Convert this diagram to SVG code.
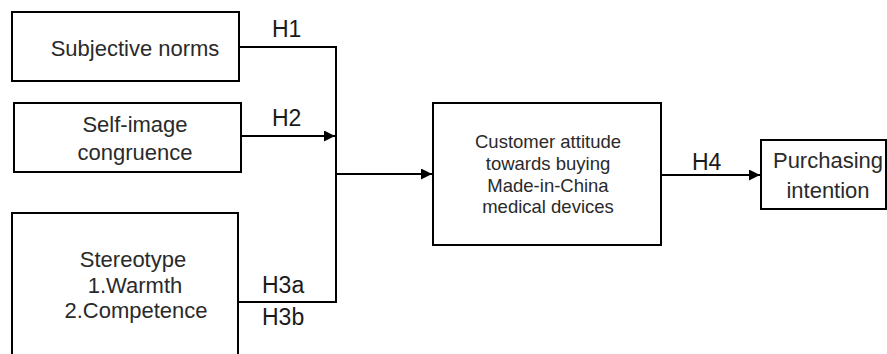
<svg xmlns="http://www.w3.org/2000/svg" width="887" height="354" viewBox="0 0 887 354">
<style>
.box{fill:#fff;stroke:#000;stroke-width:2}
.t{font-family:"Liberation Sans",Arial,sans-serif;font-size:22px;fill:#2a2a2a;text-anchor:middle}
.s{font-size:18.5px}
.lbl{font-family:"Liberation Sans",Arial,sans-serif;font-size:23px;fill:#1a1a1a}
.c{fill:none;stroke:#000;stroke-width:2}
</style>
<defs>
<marker id="ah" viewBox="0 0 10 10" refX="10" refY="5" markerWidth="11" markerHeight="11" markerUnits="userSpaceOnUse" orient="auto">
<path d="M0,0 L10,5 L0,10 Z" fill="#000"/>
</marker>
</defs>
<rect width="887" height="354" fill="#fff"/>
<g id="connectors">
<polyline class="c" points="239,47 336,47 336,302 239,302"/>
<line class="c" x1="241" y1="136" x2="335" y2="136" marker-end="url(#ah)"/>
<line class="c" x1="336" y1="174" x2="432" y2="174" marker-end="url(#ah)"/>
<line class="c" x1="661" y1="175" x2="760" y2="175" marker-end="url(#ah)"/>
<text class="lbl" x="272" y="37">H1</text>
<text class="lbl" x="272" y="126">H2</text>
<text class="lbl" x="262" y="293">H3a</text>
<text class="lbl" x="262" y="325">H3b</text>
<text class="lbl" x="692" y="170">H4</text>
</g>
<g id="subjective-norms">
<rect class="box" x="12" y="12" width="227" height="69"/>
<text class="t" x="135" y="56">Subjective norms</text>
</g>
<g id="self-image">
<rect class="box" x="14" y="103" width="227" height="69"/>
<text class="t" x="135" y="132">Self-image</text>
<text class="t" x="135" y="160">congruence</text>
</g>
<g id="stereotype">
<rect class="box" x="12" y="213" width="226" height="150"/>
<text class="t" x="133" y="267">Stereotype</text>
<text class="t" x="135" y="293">1.Warmth</text>
<text class="t" x="136" y="318">2.Competence</text>
</g>
<g id="attitude">
<rect class="box" x="433" y="103" width="228" height="142"/>
<text class="t s" x="548" y="148">Customer attitude</text>
<text class="t s" x="548" y="170">towards buying</text>
<text class="t s" x="548" y="192">Made-in-China</text>
<text class="t s" x="548" y="213">medical devices</text>
</g>
<g id="purchasing">
<rect class="box" x="761" y="140" width="125" height="69"/>
<text class="t" x="828" y="168">Purchasing</text>
<text class="t" x="828" y="198">intention</text>
</g>
</svg>
